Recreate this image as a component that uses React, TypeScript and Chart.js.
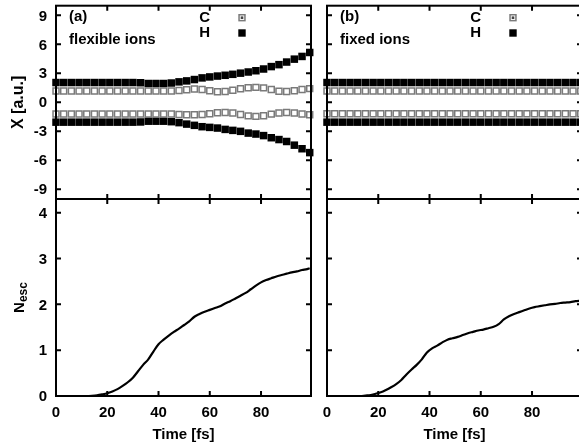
import React, { useEffect, useRef } from "react";
import { Chart, registerables } from "chart.js";

Chart.register(...registerables);

// ---------------- data ----------------
const ION_TIME = [0, 3, 6, 9, 12, 15, 18, 21, 24, 27, 30, 33, 36, 39, 42, 45, 48, 51, 54, 57, 60, 63, 66, 69, 72, 75, 78, 81, 84, 87, 90, 93, 96, 99];

// (a) flexible ions
const FLEX_H_UP = [2.05, 2.05, 2.05, 2.05, 2.05, 2.05, 2.05, 2.05, 2.05, 2.05, 2.05, 2.03, 1.95, 1.95, 1.95, 2.0, 2.12, 2.22, 2.36, 2.53, 2.63, 2.72, 2.8, 2.9, 3.02, 3.14, 3.27, 3.45, 3.7, 3.9, 4.17, 4.47, 4.75, 5.16];
const FLEX_C_UP = [1.17, 1.17, 1.17, 1.17, 1.17, 1.17, 1.17, 1.17, 1.17, 1.17, 1.17, 1.17, 1.17, 1.17, 1.17, 1.17, 1.22, 1.3, 1.38, 1.32, 1.2, 1.1, 1.12, 1.25, 1.4, 1.52, 1.55, 1.5, 1.33, 1.15, 1.12, 1.2, 1.32, 1.42];
const FLEX_C_LO = [-1.2, -1.2, -1.2, -1.2, -1.2, -1.2, -1.2, -1.2, -1.2, -1.2, -1.2, -1.2, -1.2, -1.2, -1.2, -1.2, -1.25, -1.28, -1.28, -1.25, -1.17, -1.08, -1.05, -1.1, -1.25, -1.4, -1.45, -1.38, -1.22, -1.1, -1.05, -1.1, -1.2, -1.28];
const FLEX_H_LO = [-2.05, -2.05, -2.05, -2.05, -2.05, -2.05, -2.05, -2.05, -2.05, -2.05, -2.05, -2.03, -1.95, -1.95, -1.95, -2.0, -2.1, -2.25, -2.38, -2.52, -2.59, -2.66, -2.8, -2.9, -3.0, -3.18, -3.28, -3.44, -3.66, -3.85, -4.05, -4.43, -4.8, -5.2];

// (b) fixed ions
const FIXED_H_UP = [2.05, 2.05, 2.05, 2.05, 2.05, 2.05, 2.05, 2.05, 2.05, 2.05, 2.05, 2.05, 2.05, 2.05, 2.05, 2.05, 2.05, 2.05, 2.05, 2.05, 2.05, 2.05, 2.05, 2.05, 2.05, 2.05, 2.05, 2.05, 2.05, 2.05, 2.05, 2.05, 2.05, 2.05];
const FIXED_C_UP = [1.17, 1.17, 1.17, 1.17, 1.17, 1.17, 1.17, 1.17, 1.17, 1.17, 1.17, 1.17, 1.17, 1.17, 1.17, 1.17, 1.17, 1.17, 1.17, 1.17, 1.17, 1.17, 1.17, 1.17, 1.17, 1.17, 1.17, 1.17, 1.17, 1.17, 1.17, 1.17, 1.17, 1.17];
const FIXED_C_LO = [-1.17, -1.17, -1.17, -1.17, -1.17, -1.17, -1.17, -1.17, -1.17, -1.17, -1.17, -1.17, -1.17, -1.17, -1.17, -1.17, -1.17, -1.17, -1.17, -1.17, -1.17, -1.17, -1.17, -1.17, -1.17, -1.17, -1.17, -1.17, -1.17, -1.17, -1.17, -1.17, -1.17, -1.17];
const FIXED_H_LO = [-2.05, -2.05, -2.05, -2.05, -2.05, -2.05, -2.05, -2.05, -2.05, -2.05, -2.05, -2.05, -2.05, -2.05, -2.05, -2.05, -2.05, -2.05, -2.05, -2.05, -2.05, -2.05, -2.05, -2.05, -2.05, -2.05, -2.05, -2.05, -2.05, -2.05, -2.05, -2.05, -2.05, -2.05];

// N_esc curves
const NESC_FLEX_T = [0, 5, 10, 12, 14, 16, 18, 20, 22, 24, 26, 28, 30, 32, 34, 36, 38, 40, 42, 44, 46, 48, 50, 52, 54, 56, 58, 60, 62, 64, 66, 68, 70, 72, 74, 76, 78, 80, 82, 84, 86, 88, 90, 92, 94, 96, 98, 99];
const NESC_FLEX = [0, 0, 0, 0, 0.005, 0.015, 0.035, 0.06, 0.1, 0.15, 0.22, 0.3, 0.4, 0.54, 0.68, 0.8, 0.97, 1.13, 1.23, 1.32, 1.4, 1.47, 1.55, 1.63, 1.73, 1.79, 1.84, 1.88, 1.92, 1.96, 2.02, 2.07, 2.13, 2.19, 2.25, 2.33, 2.41, 2.48, 2.53, 2.57, 2.61, 2.64, 2.67, 2.7, 2.72, 2.75, 2.77, 2.79];
const NESC_FIXED_T = [0, 5, 10, 13, 15, 17, 19, 21, 23, 25, 27, 29, 31, 33, 35, 37, 39, 41, 43, 45, 47, 49, 51, 53, 55, 57, 59, 61, 63, 65, 67, 69, 71, 73, 75, 77, 79, 81, 83, 85, 87, 89, 91, 93, 95, 97, 99];
const NESC_FIXED = [0, 0, 0, 0, 0.01, 0.02, 0.05, 0.08, 0.13, 0.19, 0.26, 0.35, 0.47, 0.58, 0.68, 0.8, 0.95, 1.04, 1.1, 1.17, 1.23, 1.26, 1.29, 1.33, 1.37, 1.4, 1.43, 1.45, 1.48, 1.51, 1.57, 1.67, 1.74, 1.79, 1.83, 1.87, 1.91, 1.94, 1.96, 1.98, 2.0, 2.01, 2.03, 2.04, 2.05, 2.07, 2.08];

// ticks
const X_TICKS = [0, 20, 40, 60, 80];
const X_TICK_LABELS = ["0", "20", "40", "60", "80"];
const POS_TICKS = [9, 6, 3, 0, -3, -6, -9];
const POS_TICK_LABELS = ["9", "6", "3", "0", "-3", "-6", "-9"];
const NESC_TICKS = [0, 1, 2, 3, 4];
const NESC_TICK_LABELS = ["0", "1", "2", "3", "4"];

// ---------------- layout / styles ----------------
const CW = 600;
const CH = 446;
const FONT = '"Liberation Sans", Arial, Helvetica, sans-serif';
const X_MAX = 99.5;

const C_STYLE = {
  showLine: false,
  pointStyle: "rect",
  pointRadius: 4.2,
  pointHoverRadius: 4.2,
  pointBackgroundColor: "#ffffff",
  pointBorderColor: "#7a7a7a",
  pointBorderWidth: 1.5,
  clip: false,
};
const DOT_STYLE = {
  showLine: false,
  pointStyle: "rect",
  pointRadius: 1.3,
  pointHoverRadius: 1.3,
  pointBackgroundColor: "#444444",
  pointBorderWidth: 0,
  clip: false,
};
const H_STYLE = {
  showLine: false,
  pointStyle: "rect",
  pointRadius: 5.3,
  pointHoverRadius: 5.3,
  pointBackgroundColor: "#000000",
  pointBorderWidth: 0,
  clip: false,
};

function pts(xs: number[], ys: number[]) {
  return xs.map((x, i) => ({ x, y: ys[i] }));
}

function ionSets(hUp: number[], cUp: number[], cLo: number[], hLo: number[]) {
  return [
    { ...C_STYLE, data: pts(ION_TIME, cUp) },
    { ...DOT_STYLE, data: pts(ION_TIME, cUp) },
    { ...C_STYLE, data: pts(ION_TIME, cLo) },
    { ...DOT_STYLE, data: pts(ION_TIME, cLo) },
    { ...H_STYLE, data: pts(ION_TIME, hUp) },
    { ...H_STYLE, data: pts(ION_TIME, hLo) },
  ];
}

function curveSet(xs: number[], ys: number[]) {
  return [
    {
      data: pts(xs, ys),
      showLine: true,
      borderColor: "#000",
      borderWidth: 2.2,
      pointRadius: 0,
      cubicInterpolationMode: "monotone",
      clip: false,
    },
  ];
}

type Panel = {
  left: number;
  right: number;
  top: number;
  bottom: number;
  yMin: number;
  yMax: number;
  yTicks: number[];
  yLabels: string[] | null;
  yTitle: string | null;
  xLabels: boolean;
  tag: string | null;
  note: string | null;
  legend: boolean;
  datasets: any[];
};

const PANELS: Panel[] = [
  {
    left: 56, right: 311, top: 3, bottom: 199, yMin: -10, yMax: 10,
    yTicks: POS_TICKS, yLabels: POS_TICK_LABELS, yTitle: "X [a.u.]", xLabels: false,
    tag: "(a)", note: "flexible ions", legend: true,
    datasets: ionSets(FLEX_H_UP, FLEX_C_UP, FLEX_C_LO, FLEX_H_LO),
  },
  {
    left: 327, right: 582, top: 3, bottom: 199, yMin: -10, yMax: 10,
    yTicks: POS_TICKS, yLabels: null, yTitle: null, xLabels: false,
    tag: "(b)", note: "fixed ions", legend: true,
    datasets: ionSets(FIXED_H_UP, FIXED_C_UP, FIXED_C_LO, FIXED_H_LO),
  },
  {
    left: 56, right: 311, top: 199, bottom: 396, yMin: 0, yMax: 4.3,
    yTicks: NESC_TICKS, yLabels: NESC_TICK_LABELS, yTitle: "Nesc", xLabels: true,
    tag: null, note: null, legend: false,
    datasets: curveSet(NESC_FLEX_T, NESC_FLEX),
  },
  {
    left: 327, right: 582, top: 199, bottom: 396, yMin: 0, yMax: 4.3,
    yTicks: NESC_TICKS, yLabels: null, yTitle: null, xLabels: true,
    tag: null, note: null, legend: false,
    datasets: curveSet(NESC_FIXED_T, NESC_FIXED),
  },
];

function decoPlugin(p: Panel) {
  return {
    id: "panelDeco",
    afterDraw(chart: any) {
      const ctx: CanvasRenderingContext2D = chart.ctx;
      const { left, right, top, bottom } = chart.chartArea;
      const xs = chart.scales.x;
      const ys = chart.scales.y;
      const TL = 5;
      ctx.save();
      ctx.strokeStyle = "#000";
      ctx.lineWidth = 2;
      ctx.beginPath();
      X_TICKS.forEach((v) => {
        const px = xs.getPixelForValue(v);
        ctx.moveTo(px, top);
        ctx.lineTo(px, top + TL);
        ctx.moveTo(px, bottom);
        ctx.lineTo(px, bottom - TL);
      });
      p.yTicks.forEach((v) => {
        const py = ys.getPixelForValue(v);
        ctx.moveTo(left, py);
        ctx.lineTo(left + TL, py);
        ctx.moveTo(right, py);
        ctx.lineTo(right - TL, py);
      });
      ctx.stroke();
      ctx.strokeRect(left, top, right - left, bottom - top);

      ctx.fillStyle = "#000";
      ctx.font = `bold 15px ${FONT}`;
      if (p.yLabels) {
        ctx.textAlign = "right";
        ctx.textBaseline = "middle";
        p.yTicks.forEach((v, i) => {
          ctx.fillText(p.yLabels![i], left - 9, ys.getPixelForValue(v) + 1);
        });
      }
      if (p.xLabels) {
        ctx.textAlign = "center";
        ctx.textBaseline = "middle";
        X_TICKS.forEach((v, i) => {
          ctx.fillText(X_TICK_LABELS[i], xs.getPixelForValue(v), bottom + 17);
        });
        ctx.fillText("Time [fs]", (left + right) / 2, bottom + 39);
      }
      if (p.yTitle === "X [a.u.]") {
        ctx.save();
        ctx.translate(19, (top + bottom) / 2);
        ctx.rotate(-Math.PI / 2);
        ctx.textAlign = "center";
        ctx.textBaseline = "middle";
        ctx.font = `bold 16px ${FONT}`;
        ctx.fillText(p.yTitle, 0, 0);
        ctx.restore();
      } else if (p.yTitle === "Nesc") {
        ctx.save();
        ctx.translate(24, (top + bottom) / 2);
        ctx.rotate(-Math.PI / 2);
        ctx.textAlign = "left";
        ctx.textBaseline = "alphabetic";
        ctx.font = `bold 15px ${FONT}`;
        const wN = ctx.measureText("N").width;
        ctx.font = `bold 12px ${FONT}`;
        const wS = ctx.measureText("esc").width;
        const x0 = -(wN + wS) / 2;
        ctx.font = `bold 15px ${FONT}`;
        ctx.fillText("N", x0, 0);
        ctx.font = `bold 12px ${FONT}`;
        ctx.fillText("esc", x0 + wN, 3);
        ctx.restore();
      }
      ctx.font = `bold 15px ${FONT}`;
      ctx.textBaseline = "middle";
      if (p.tag) {
        ctx.textAlign = "left";
        ctx.fillText(p.tag, left + 13, top + 11);
      }
      if (p.note) {
        ctx.textAlign = "left";
        ctx.fillText(p.note, left + 13, top + 34);
      }
      if (p.legend) {
        ctx.textAlign = "right";
        const tx = left + 154;
        const mx = left + 186;
        ctx.fillText("C", tx, top + 12);
        ctx.fillText("H", tx, top + 27.5);
        // C sample
        const s = 5.9;
        ctx.fillStyle = "#fff";
        ctx.fillRect(mx - s / 2, top + 12 - s / 2, s, s);
        ctx.strokeStyle = "#7a7a7a";
        ctx.lineWidth = 1.5;
        ctx.strokeRect(mx - s / 2, top + 12 - s / 2, s, s);
        ctx.fillStyle = "#444";
        ctx.fillRect(mx - 1.3, top + 12 - 1.3, 2.6, 2.6);
        // H sample
        ctx.fillStyle = "#000";
        ctx.fillRect(mx - 3.7, top + 27.3 - 3.7, 7.4, 7.4);
      }
      ctx.restore();
    },
  };
}

export default function App() {
  const refs = useRef<(HTMLCanvasElement | null)[]>([]);

  useEffect(() => {
    const charts = PANELS.map((p, i) => {
      const canvas = refs.current[i]!;
      return new Chart(canvas, {
        type: "scatter",
        data: { datasets: p.datasets },
        options: {
          responsive: false,
          animation: false,
          events: [],
          layout: {
            padding: { left: p.left, top: p.top, right: CW - p.right, bottom: CH - p.bottom },
          },
          scales: {
            x: { type: "linear", min: 0, max: X_MAX, display: false },
            y: { type: "linear", min: p.yMin, max: p.yMax, display: false },
          },
          plugins: { legend: { display: false }, tooltip: { enabled: false } },
        },
        plugins: [decoPlugin(p)],
      } as any);
    });
    return () => charts.forEach((c) => c.destroy());
  }, []);

  return (
    <div
      style={{
        position: "fixed",
        left: 0,
        top: 0,
        width: 579,
        height: 446,
        overflow: "hidden",
        background: "#fff",
      }}
    >
      {PANELS.map((_, i) => (
        <canvas
          key={i}
          ref={(el) => {
            refs.current[i] = el;
          }}
          width={CW}
          height={CH}
          style={{ position: "absolute", left: 0, top: 0, width: CW, height: CH }}
        />
      ))}
    </div>
  );
}
